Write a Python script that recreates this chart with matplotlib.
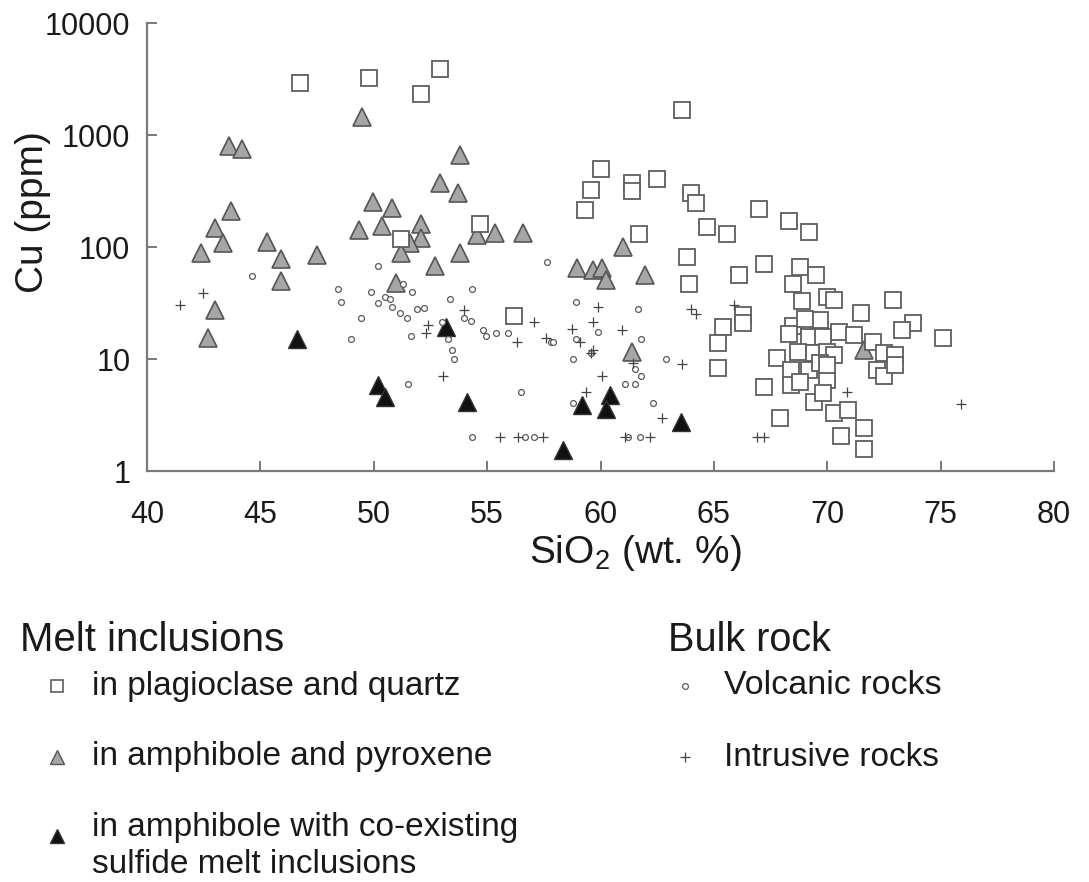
import matplotlib
matplotlib.use("Agg")
import matplotlib.pyplot as plt
from matplotlib.ticker import FixedLocator, FixedFormatter, NullLocator

plt.rcParams['font.family'] = ['Liberation Sans', 'DejaVu Sans']
plt.rcParams['mathtext.fontset'] = 'custom'
plt.rcParams['mathtext.rm'] = 'Liberation Sans'
plt.rcParams['mathtext.it'] = 'Liberation Sans'

# ---------------- data ----------------
# Melt inclusions in plagioclase and quartz (open squares)
plag_sio2 = [46.75, 49.8, 52.9, 52.1, 63.6,
             60.0, 59.6, 59.3, 61.4, 61.4, 62.5, 64.0, 64.2, 61.7, 63.8, 63.9, 54.7, 51.2, 56.2,
             67.0, 68.3, 69.2, 64.7, 65.6, 66.1, 67.2, 68.8, 69.5, 68.5,
             68.9, 70.0, 70.3, 71.5, 72.9, 73.8, 73.3, 75.1,
             66.3, 66.3, 65.4, 65.2, 65.2,
             68.5, 68.3, 69.2, 69.7, 70.5, 71.2, 72.0, 69.2, 69.8, 67.8, 68.7, 69.4, 70.0, 70.3,
             68.4, 69.2, 70.0, 72.5, 73.0, 72.2, 72.5, 73.0, 67.2, 68.4, 68.8, 69.4, 70.3, 70.9,
             67.9, 70.6, 71.6, 71.6, 69.0, 69.7, 70.0, 69.8]
plag_cu = [2900, 3200, 3880, 2320, 1670,
           497, 323, 214, 373, 316, 405, 302, 246, 131, 82, 47, 160, 118, 24,
           218, 171, 136, 151, 131, 56, 71, 66, 56, 47,
           33, 36, 33.6, 25.8, 33.6, 21, 18, 15.4,
           24.7, 21, 19.3, 13.9, 8.3,
           19.7, 16.7, 21.4, 22.3, 17.4, 16.3, 14.2, 15.7, 15.7, 10.2, 11.5, 11.3, 11.5, 10.8,
           8.0, 8.0, 6.5, 11.3, 10.8, 8.0, 7.1, 8.8, 5.6, 5.85, 6.2, 4.1, 3.3, 3.5,
           3.0, 2.05, 2.4, 1.57, 22.8, 9.2, 8.8, 5.0]

# Melt inclusions in amphibole and pyroxene (grey triangles)
amph_sio2 = [42.4, 43.0, 43.35, 43.7, 43.6, 44.2, 45.3, 45.9, 45.9, 47.5, 43.0, 42.7,
             49.5, 53.8, 52.9, 53.7, 49.95, 50.8, 49.35, 50.35, 52.1, 52.1, 51.6, 51.2,
             54.55, 55.35, 56.6, 52.7, 53.8, 51.0, 61.0, 58.96, 59.67, 60.07, 60.24, 61.96,
             61.4, 71.6]
amph_cu = [88, 148, 109, 209, 800, 750, 111, 78, 50, 85, 27.3, 15.4,
           1450, 660, 373, 304, 253, 222, 142, 154, 160, 120, 109, 88,
           128, 133, 133, 68, 88, 48, 100, 65, 62, 65, 51, 56,
           11.5, 12.0]

# Melt inclusions in amphibole with co-existing sulfide melt inclusions (black triangles)
sulf_sio2 = [46.6, 50.2, 50.5, 53.2, 54.1, 58.35, 59.2, 60.4, 60.25, 63.55]
sulf_cu = [15.1, 5.9, 4.6, 19.3, 4.1, 1.54, 3.9, 4.8, 3.6, 2.74]

# Bulk rock: volcanic rocks (small open circles)
volc_sio2 = [44.63, 48.42, 48.56, 49.44, 49.0, 50.19, 49.9, 50.2, 50.5, 50.7, 50.8, 51.16,
             51.46, 51.3, 51.7, 51.9, 52.2, 51.64, 51.5,
             53.36, 54.33, 54.0, 54.3, 53.27, 53.45, 53.54, 53.0, 54.8, 54.95, 55.4, 55.9,
             57.64, 57.8, 57.9, 56.5, 54.33, 56.67, 57.07, 58.9, 59.9, 58.9, 58.8, 59.6,
             58.8, 61.65, 61.8, 61.5, 61.8, 61.1, 61.5, 62.3, 61.2, 61.75, 62.9]
volc_cu = [55, 42, 32, 23, 15.1, 68, 40, 31.6, 35.7, 34, 29, 26,
           23, 46.6, 40, 27.9, 28.6, 16, 6.0,
           34, 42, 23, 21.8, 15.1, 12.0, 10.0, 21.4, 18.2, 16.0, 17.1, 17.1,
           73.5, 14.1, 14.1, 5.1, 2.0, 2.0, 2.0, 32, 17.4, 15.1, 10.0, 11.3,
           4.05, 28, 15.1, 8.1, 7.1, 6.0, 6.0, 4.05, 2.0, 2.0, 10.0]

# Bulk rock: intrusive rocks (plus signs)
intr_sio2 = [41.46, 42.47, 52.4, 52.3, 53.98, 53.05, 57.07, 56.3, 57.6, 58.74, 59.1, 59.9,
             59.67, 59.67, 59.6, 60.95, 60.07, 59.36, 62.7, 63.6, 64.0, 64.2, 55.57, 56.36,
             57.46, 61.08, 62.18, 61.43, 65.9, 66.9, 67.2, 70.87, 75.9]
intr_cu = [30.3, 38.9, 20, 17.1, 27.3, 7.1, 21.4, 14.2, 15.4, 18.5, 14.1, 29,
           21.4, 12.0, 11.3, 18.2, 7.1, 5.1, 3.0, 9.0, 28, 25, 2.0, 2.0,
           2.0, 2.0, 2.0, 9.2, 30.3, 2.0, 2.0, 5.1, 4.0]

x_ticks = [40, 45, 50, 55, 60, 65, 70, 75, 80]
y_ticks = [1, 10, 100, 1000, 10000]
y_tick_labels = ['1', '10', '100', '1000', '10000']

legend_left_title = 'Melt inclusions'
legend_right_title = 'Bulk rock'
legend_left_labels = ['in plagioclase and quartz', 'in amphibole and pyroxene',
                      'in amphibole with co-existing\nsulfide melt inclusions']
legend_right_labels = ['Volcanic rocks', 'Intrusive rocks']

# ---------------- styles ----------------
W, H = 1089, 882
sq_style = dict(marker='s', ms=11.8, mfc='white', mec='#5e5e5e', mew=1.3, ls='none')
tri_style = dict(marker='^', ms=12.5, mfc='#a6a6a6', mec='#555555', mew=1.2, ls='none')
blk_style = dict(marker='^', ms=12.5, mfc='#111111', mec='#333333', mew=1.0, ls='none')
cir_style = dict(marker='o', ms=4.2, mfc='white', mec='#5a5a5a', mew=0.9, ls='none')
plus_style = dict(marker='+', ms=7.5, mec='#444444', mew=0.9, ls='none')

fig = plt.figure(figsize=(W / 100, H / 100), dpi=100)
ax = fig.add_axes([147 / W, 1 - 471 / H, (1054 - 147) / W, (471 - 23) / H])

ax.plot(amph_sio2, amph_cu, zorder=3, **tri_style)
ax.plot(plag_sio2, plag_cu, zorder=4, **sq_style)
ax.plot(sulf_sio2, sulf_cu, zorder=5, **blk_style)
ax.plot(volc_sio2, volc_cu, zorder=6, **cir_style)
ax.plot(intr_sio2, intr_cu, zorder=7, **plus_style)

ax.set_yscale('log')
ax.set_xlim(40, 80)
ax.set_ylim(1, 10000)
ax.xaxis.set_major_locator(FixedLocator(x_ticks))
ax.yaxis.set_major_locator(FixedLocator(y_ticks))
ax.yaxis.set_major_formatter(FixedFormatter(y_tick_labels))
ax.yaxis.set_minor_locator(NullLocator())
ax.xaxis.set_minor_locator(NullLocator())
for s in ['top', 'right']:
    ax.spines[s].set_visible(False)
for s in ['left', 'bottom']:
    ax.spines[s].set_color('#7a7a7a')
    ax.spines[s].set_linewidth(1.6)
ax.tick_params(axis='x', direction='in', length=7, width=1.4, color='#7a7a7a',
               labelsize=22, pad=21, labelcolor='#1a1a1a')
ax.tick_params(axis='y', direction='in', length=7, width=1.4, color='#7a7a7a',
               labelsize=22, pad=12, labelcolor='#1a1a1a')
ax.set_facecolor('white')


def fx(px):
    return px / W


def fy(py):
    return 1 - py / H


fig.text(fx(33), fy(212), 'Cu (ppm)', rotation=90, fontsize=28, ha='center', va='center',
         color='#1a1a1a')
fig.text(fx(635), fy(553), r'SiO$_2$ (wt. %)', fontsize=28, ha='center', va='center',
         color='#1a1a1a')

# legend (figure-level overlay)
lg = fig.add_axes([0, 0, 1, 1])
lg.set_xlim(0, W)
lg.set_ylim(H, 0)
lg.axis('off')
lg.patch.set_visible(False)

fig.text(fx(20), fy(640), legend_left_title, fontsize=29, ha='left', va='center', color='#1a1a1a')
fig.text(fx(668), fy(640), legend_right_title, fontsize=28.5, ha='left', va='center', color='#1a1a1a')

lg.plot([57], [686], marker='s', ms=9, mfc='white', mec='#5e5e5e', mew=1.2, ls='none')
lg.plot([57], [757], marker='^', ms=10, mfc='#a6a6a6', mec='#555555', mew=1.0, ls='none')
lg.plot([57], [836], marker='^', ms=10, mfc='#111111', mec='#333333', mew=1.0, ls='none')
lg.plot([685], [686], marker='o', ms=4.2, mfc='white', mec='#5a5a5a', mew=0.9, ls='none')
lg.plot([685], [757], marker='+', ms=7.5, mec='#444444', mew=0.9, ls='none')

fig.text(fx(92), fy(686), legend_left_labels[0], fontsize=24, ha='left', va='center', color='#1a1a1a')
fig.text(fx(92), fy(757), legend_left_labels[1], fontsize=24, ha='left', va='center', color='#1a1a1a')
fig.text(fx(92), fy(846), legend_left_labels[2], fontsize=24, ha='left', va='center',
         color='#1a1a1a', linespacing=1.25)
fig.text(fx(724), fy(686), legend_right_labels[0], fontsize=24.5, ha='left', va='center', color='#1a1a1a')
fig.text(fx(724), fy(757), legend_right_labels[1], fontsize=24, ha='left', va='center', color='#1a1a1a')

fig.savefig('out.png', dpi=100)
